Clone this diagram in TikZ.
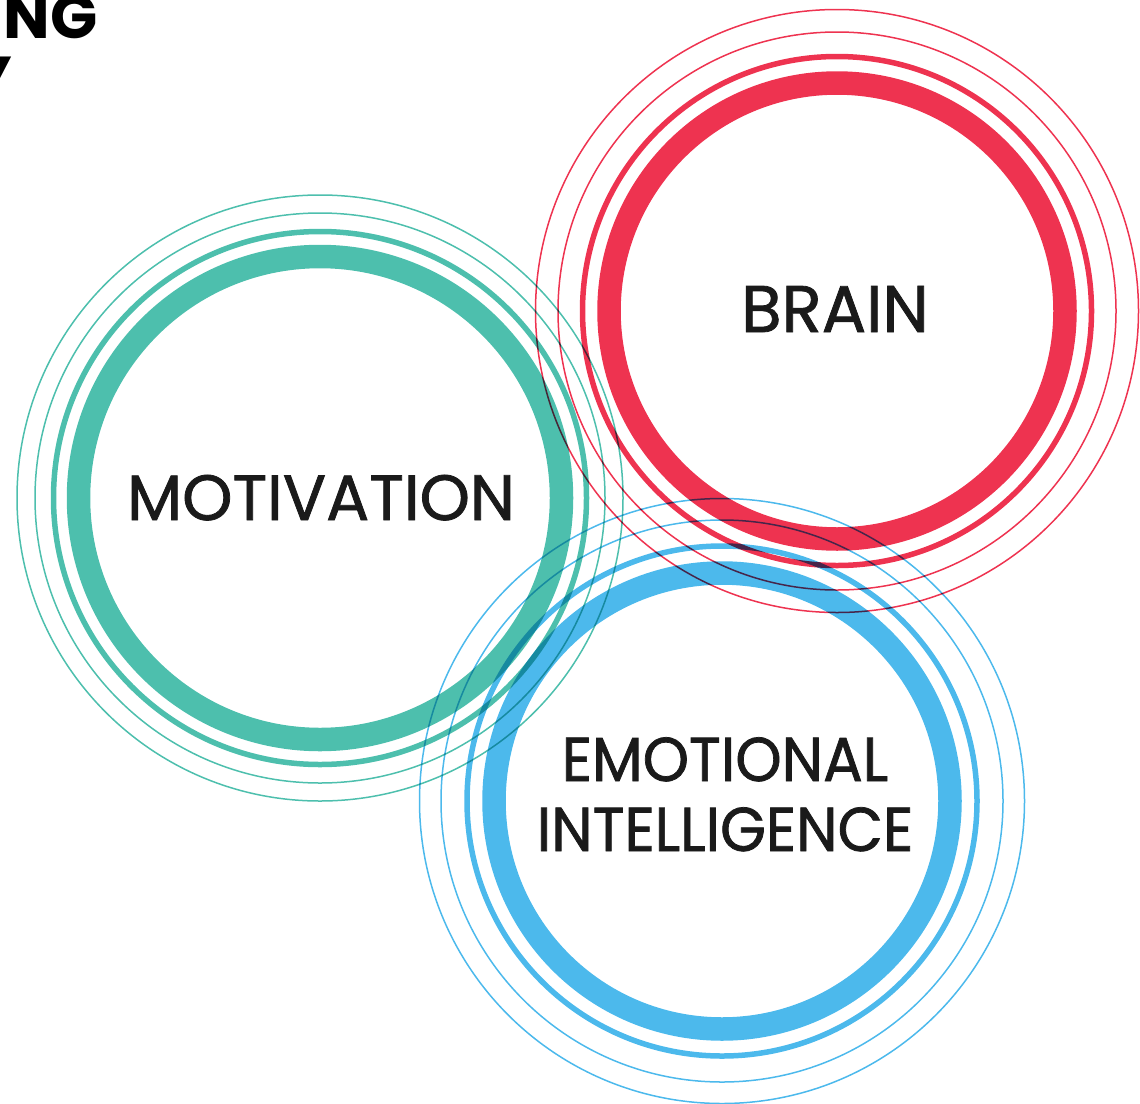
\documentclass[tikz,border=0pt]{standalone}
\usepackage{fontspec}
\setmainfont{Poppins}
\newfontfamily\labelfont{Poppins}[FakeBold=1.2]
\definecolor{cgreen}{HTML}{4DBFAD}
\definecolor{cred}{HTML}{EE3350}
\definecolor{cblue}{HTML}{4CB9EC}
\definecolor{ctext}{HTML}{1A1A1A}
\tikzset{
  thickring/.style={line width=23.5},
  medring/.style={line width=5.5},
  thinring/.style={line width=1.5},
  label/.style={text=ctext, inner sep=0, font=\labelfont\fontsize{66}{66}\selectfont},
  smalllabel/.style={text=ctext, inner sep=0, xscale=0.95, font=\labelfont\fontsize{62}{62}\selectfont},
  title/.style={text=black, inner sep=0, font=\fontsize{62}{62}\selectfont\bfseries},
}
\begin{document}
\begin{tikzpicture}[x=1pt, y=-1pt]
\useasboundingbox (0,0) rectangle (1140,1103);
\clip (0,0) rectangle (1140,1103);
\coordinate (G) at (320,498);
\coordinate (R) at (837,311);
\coordinate (B) at (722,801);
\begin{scope}[blend group=multiply]
  % green group
  \draw[cgreen, thickring] (G) circle[radius=241.5];
  \draw[cgreen, medring] (G) circle[radius=266.5];
  \draw[cgreen, thinring] (G) circle[radius=285];
  \draw[cgreen, thinring] (G) circle[radius=303];
  % red group
  \draw[cred, thickring] (R) circle[radius=228];
  \draw[cred, medring] (R) circle[radius=254.5];
  \draw[cred, thinring] (R) circle[radius=279];
  \draw[cred, thinring] (R) circle[radius=301.5];
  % blue group
  \draw[cblue, thickring] (B) circle[radius=228];
  \draw[cblue, medring] (B) circle[radius=255];
  \draw[cblue, thinring] (B) circle[radius=281];
  \draw[cblue, thinring] (B) circle[radius=302.5];
\end{scope}
\node[label, anchor=base, font=\labelfont\fontsize{64}{64}\selectfont] (mot) at (321,520) {MOTIVATION};
\node[label, anchor=base] (brain) at (835,332) {BRAIN};
\node[smalllabel, anchor=base] (emo) at (725,781) {EMOTIONAL};
\node[smalllabel, anchor=base] (intel) at (725,851) {INTELLIGENCE};
\node[title, anchor=base east] (t1) at (98,38) {NG};
\node[title, anchor=base east] (t2) at (12,100) {Y};
\end{tikzpicture}
\end{document}
